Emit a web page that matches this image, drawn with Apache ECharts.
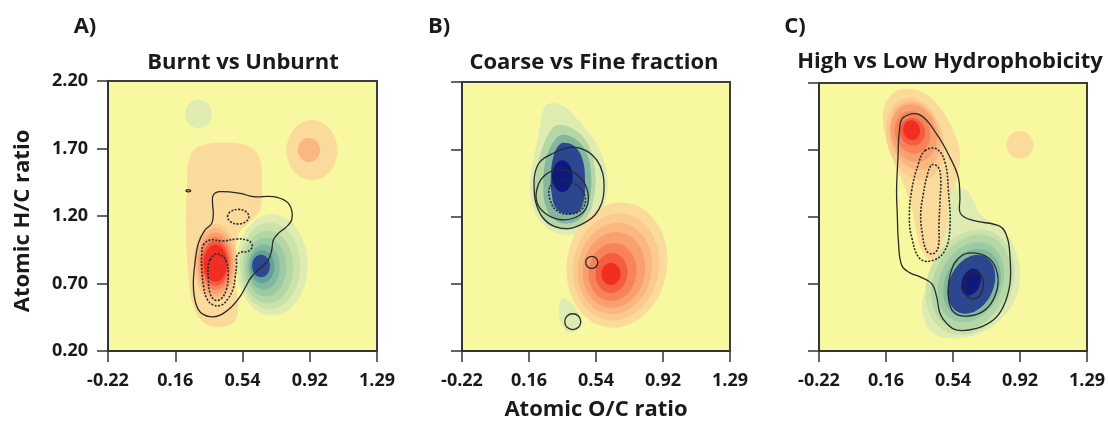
<!DOCTYPE html>
<html><head><meta charset="utf-8">
<script src="https://cdn.jsdelivr.net/npm/echarts@6/dist/echarts.min.js"></script>
<style>html,body{margin:0;padding:0;background:#fff}#chart{width:1108px;height:424px}</style>
</head><body><div id="chart"></div>
<script>
// ---------- axes / labels ----------
const xTickLabels = ['-0.22', '0.16', '0.54', '0.92', '1.29'];
const yTickLabels = ['0.20', '0.70', '1.20', '1.70', '2.20'];
const xRange = [-0.22, 1.29];
const yRange = [0.20, 2.20];
const panelLetters = ['A)', 'B)', 'C)'];
const panelTitles = ['Burnt vs Unburnt', 'Coarse vs Fine fraction', 'High vs Low Hydrophobicity'];
const xAxisTitle = 'Atomic O/C ratio';
const yAxisTitle = 'Atomic H/C ratio';

// ---------- density-difference surfaces (O/C, H/C) ----------
// level >0 : first group denser (orange/red), level <0 : second group denser (green/blue)
// filled regions: vertex lists in data units
const A_fill_plus1 = [[0.240,1.640],[0.300,1.720],[0.437,1.745],[0.570,1.715],[0.630,1.630],[0.644,1.430],[0.633,1.244],[0.577,1.156],[0.510,1.059],[0.498,0.726],[0.510,0.504],[0.482,0.407],[0.397,0.378],[0.313,0.415],[0.257,0.541],[0.229,0.800],[0.218,1.096],[0.223,1.393]];
const B_fill_minus1 = [[0.276,2.042],[0.351,2.022],[0.435,1.917],[0.511,1.793],[0.573,1.645],[0.599,1.471],[0.586,1.298],[0.539,1.174],[0.445,1.080],[0.332,1.070],[0.238,1.137],[0.178,1.273],[0.163,1.447],[0.186,1.645],[0.216,1.843],[0.238,1.992]];
const B_fill_minus3 = [[0.323,1.880],[0.417,1.843],[0.492,1.732],[0.529,1.546],[0.524,1.348],[0.482,1.187],[0.389,1.105],[0.295,1.120],[0.223,1.204],[0.191,1.360],[0.201,1.546],[0.235,1.719],[0.276,1.831]];
const B_fill_minus5 = [[0.342,1.806],[0.426,1.769],[0.482,1.670],[0.507,1.521],[0.501,1.348],[0.464,1.211],[0.389,1.149],[0.304,1.174],[0.253,1.273],[0.238,1.422],[0.248,1.595],[0.285,1.732]];
const B_fill_minus7 = [[0.351,1.749],[0.417,1.719],[0.460,1.620],[0.473,1.471],[0.467,1.323],[0.435,1.236],[0.370,1.219],[0.310,1.261],[0.285,1.372],[0.281,1.521],[0.295,1.645],[0.319,1.719]];
const B_fill_minus1b = [[0.343,0.594],[0.388,0.564],[0.434,0.490],[0.456,0.416],[0.434,0.356],[0.377,0.341],[0.343,0.393],[0.326,0.490]];
const C_fill_plus1 = [[0.255,2.153],[0.368,2.128],[0.462,2.017],[0.537,1.843],[0.574,1.670],[0.556,1.472],[0.527,1.273],[0.509,1.075],[0.490,0.926],[0.424,0.877],[0.368,0.926],[0.330,1.075],[0.302,1.273],[0.255,1.447],[0.199,1.620],[0.152,1.818],[0.143,1.992],[0.180,2.103]];
const C_fill_minus1 = [[0.537,1.410],[0.612,1.397],[0.649,1.323],[0.687,1.224],[0.762,1.149],[0.837,1.075],[0.894,0.926],[0.913,0.753],[0.884,0.580],[0.800,0.431],[0.687,0.332],[0.537,0.294],[0.424,0.332],[0.368,0.456],[0.368,0.604],[0.415,0.728],[0.462,0.827],[0.471,0.976],[0.499,1.125],[0.509,1.273]];

// elliptical density bands: [O/C centre, H/C centre, O/C half-width, H/C half-height, tilt deg, level]
const A_bands = [
  [0.288,1.956,0.076,0.104,0,-1],
  [0.925,1.689,0.143,0.222,0,1],[0.908,1.689,0.062,0.089,0,3],
  [0.383,0.852,0.122,0.290,0,2],[0.383,0.852,0.110,0.258,0,3],[0.383,0.850,0.098,0.228,0,4],
  [0.383,0.850,0.087,0.198,0,5],[0.383,0.850,0.077,0.168,0,6],[0.383,0.850,0.066,0.138,0,7],
  [0.701,0.837,0.200,0.375,0,-1],[0.689,0.830,0.170,0.322,0,-2],[0.678,0.822,0.142,0.270,0,-3],
  [0.667,0.822,0.114,0.218,0,-4],[0.656,0.822,0.088,0.168,0,-5],[0.646,0.825,0.068,0.122,0,-6],
  [0.639,0.830,0.050,0.083,0,-7]
];
const B_bands = [
  [0.345,1.500,0.058,0.118,0,-8],
  [0.653,0.839,0.282,0.468,10,1],[0.648,0.825,0.242,0.401,10,2],[0.642,0.813,0.208,0.342,10,3],
  [0.636,0.802,0.175,0.283,10,4],[0.628,0.787,0.135,0.216,8,5],[0.622,0.780,0.090,0.149,5,6],
  [0.619,0.773,0.054,0.082,0,7]
];
const C_bands = [
  [0.912,1.739,0.075,0.104,0,1],
  [0.321,1.784,0.158,0.312,-15,2],[0.321,1.806,0.140,0.260,-15,3],[0.315,1.825,0.127,0.219,-15,4],
  [0.307,1.832,0.099,0.160,-15,5],[0.307,1.836,0.070,0.104,-15,6],[0.302,1.848,0.047,0.074,-15,7],
  [0.631,0.713,0.237,0.409,25,-2],[0.636,0.713,0.208,0.372,25,-3],[0.636,0.713,0.175,0.312,25,-4],
  [0.642,0.706,0.152,0.268,25,-5],[0.639,0.698,0.124,0.230,25,-7],[0.637,0.715,0.052,0.104,20,-8]
];

// black contour lines (vertex lists in data units)
const A_contour_solid1 = [[0.371,1.355],[0.409,1.380],[0.521,1.368],[0.596,1.343],[0.708,1.343],[0.783,1.306],[0.811,1.244],[0.811,1.170],[0.783,1.121],[0.736,1.071],[0.708,1.022],[0.699,0.948],[0.680,0.874],[0.633,0.812],[0.586,0.750],[0.558,0.689],[0.521,0.602],[0.474,0.528],[0.409,0.466],[0.352,0.454],[0.296,0.491],[0.268,0.577],[0.259,0.701],[0.268,0.849],[0.287,0.997],[0.324,1.096],[0.362,1.145],[0.371,1.219],[0.367,1.293]];
const A_contour_solid2 = [[0.218,1.387],[0.231,1.395],[0.244,1.387],[0.231,1.379]];
const A_contour_dash1 = [[0.315,0.985],[0.353,1.022],[0.427,1.015],[0.502,1.030],[0.558,1.022],[0.586,0.997],[0.586,0.960],[0.558,0.936],[0.521,0.931],[0.502,0.899],[0.502,0.837],[0.493,0.738],[0.483,0.664],[0.455,0.590],[0.418,0.541],[0.371,0.541],[0.334,0.590],[0.315,0.689],[0.306,0.812],[0.306,0.911]];
const A_contour_dash2 = [[0.353,0.874],[0.381,0.916],[0.418,0.906],[0.446,0.861],[0.455,0.763],[0.446,0.664],[0.418,0.590],[0.381,0.577],[0.353,0.627],[0.343,0.738],[0.343,0.837]];
const A_contour_dash3 = [[0.451,1.195],[0.469,1.233],[0.511,1.249],[0.553,1.233],[0.571,1.195],[0.553,1.157],[0.511,1.141],[0.469,1.157]];
const B_contour_solid1 = [[0.186,1.422],[0.191,1.521],[0.220,1.608],[0.295,1.670],[0.389,1.714],[0.473,1.694],[0.539,1.620],[0.573,1.521],[0.580,1.397],[0.567,1.298],[0.529,1.211],[0.464,1.149],[0.389,1.112],[0.304,1.125],[0.238,1.187],[0.197,1.298]];
const B_contour_solid2 = [[0.201,1.397],[0.238,1.496],[0.313,1.546],[0.398,1.533],[0.464,1.459],[0.492,1.348],[0.473,1.248],[0.407,1.187],[0.323,1.179],[0.248,1.224],[0.204,1.298]];
const B_contour_solid3 = [[0.477,0.859],[0.487,0.891],[0.511,0.904],[0.535,0.891],[0.545,0.859],[0.535,0.827],[0.511,0.814],[0.487,0.827]];
const B_contour_solid4 = [[0.359,0.418],[0.372,0.460],[0.404,0.477],[0.436,0.460],[0.449,0.418],[0.436,0.376],[0.404,0.359],[0.372,0.376]];
const B_contour_dash1 = [[0.276,1.422],[0.342,1.471],[0.426,1.434],[0.473,1.348],[0.460,1.261],[0.398,1.219],[0.323,1.236],[0.280,1.310]];
const C_contour_solid1 = [[0.255,1.942],[0.349,1.962],[0.443,1.818],[0.518,1.645],[0.565,1.496],[0.574,1.348],[0.578,1.224],[0.649,1.174],[0.800,1.130],[0.841,1.045],[0.856,0.902],[0.856,0.703],[0.818,0.530],[0.762,0.431],[0.668,0.369],[0.556,0.356],[0.499,0.406],[0.462,0.480],[0.443,0.604],[0.415,0.703],[0.349,0.753],[0.293,0.783],[0.246,0.840],[0.227,1.025],[0.221,1.224],[0.217,1.397],[0.225,1.645],[0.233,1.843]];
const C_contour_solid2 = [[0.621,0.931],[0.734,0.896],[0.785,0.778],[0.777,0.629],[0.715,0.505],[0.612,0.460],[0.537,0.493],[0.509,0.604],[0.518,0.765],[0.556,0.877]];
const C_contour_solid3 = [[0.640,0.790],[0.691,0.773],[0.706,0.691],[0.683,0.609],[0.635,0.592],[0.603,0.641],[0.603,0.728]];
const C_contour_dash1 = [[0.377,1.695],[0.443,1.707],[0.490,1.608],[0.509,1.397],[0.518,1.125],[0.490,0.951],[0.424,0.877],[0.349,0.889],[0.302,1.050],[0.289,1.199],[0.302,1.397],[0.340,1.596]];
const C_contour_dash2 = [[0.415,1.588],[0.452,1.571],[0.466,1.484],[0.462,1.323],[0.456,1.149],[0.452,0.976],[0.424,0.926],[0.387,0.946],[0.362,1.075],[0.353,1.224],[0.368,1.372],[0.387,1.496]];

// ---------- styling ----------
const POS = ['#fbdb9b','#fbcb8e','#fbb780','#faa06f','#f8835b','#f55d41','#f12e21'];
const NEG = ['#dfecb1','#cbe3aa','#b4d7a5','#9ccaa2','#83b89f','#64a09b','#2c4690','#0d1a7c'];
const BG = '#f8f8a0';
const FONT = '"Open Sans", "Liberation Sans", sans-serif';
function colorFor(level) { return level > 0 ? POS[level - 1] : NEG[-level - 1]; }

const panels = [
  { fills: [[A_fill_plus1, 1]], bands: A_bands,
    contours: [[A_contour_solid1,false],[A_contour_solid2,false],[A_contour_dash1,true],[A_contour_dash2,true],[A_contour_dash3,true]] },
  { fills: [[B_fill_minus1,-1],[B_fill_minus3,-3],[B_fill_minus5,-5],[B_fill_minus7,-7],[B_fill_minus1b,-1]], bands: B_bands,
    contours: [[B_contour_solid1,false],[B_contour_solid2,false],[B_contour_solid3,false],[B_contour_solid4,false],[B_contour_dash1,true]] },
  { fills: [[C_fill_plus1,1],[C_fill_minus1,-1]], bands: C_bands,
    contours: [[C_contour_solid1,false],[C_contour_solid2,false],[C_contour_solid3,false],[C_contour_dash1,true],[C_contour_dash2,true]] }
];
const gridBoxes = [
  { left: 108, top: 81, width: 269, height: 270 },
  { left: 462, top: 82, width: 268, height: 269 },
  { left: 819, top: 83, width: 268, height: 268 }
];
const letterPos = [[85, 27], [439, 27], [795, 27]];
const titlePos = [[243, 63], [594, 63], [950, 62]];

const grid = [], xAxis = [], yAxis = [], series = [];
const axisLineStyle = { color: '#333', width: 2 };
panels.forEach((p, i) => {
  grid.push(Object.assign({ show: true, backgroundColor: BG, borderColor: '#3c3c3c', borderWidth: 2, containLabel: false }, gridBoxes[i]));
  const base = xAxis.length;
  xAxis.push({ gridIndex: i, type: 'value', min: xRange[0], max: xRange[1], show: false });
  xAxis.push({ gridIndex: i, type: 'category', data: xTickLabels, boundaryGap: false, position: 'bottom',
    axisLine: { show: true, onZero: false, lineStyle: axisLineStyle },
    axisTick: { show: true, length: 11, lineStyle: { color: '#333', width: 1.5 } },
    axisLabel: { show: true, margin: 21, color: '#1a1a1a', fontFamily: FONT, fontWeight: 'bold', fontSize: 18, interval: 0 },
    splitLine: { show: false } });
  yAxis.push({ gridIndex: i, type: 'value', min: yRange[0], max: yRange[1], show: false });
  yAxis.push({ gridIndex: i, type: 'category', data: yTickLabels, boundaryGap: false, position: 'left',
    axisLine: { show: true, onZero: false, lineStyle: axisLineStyle },
    axisTick: { show: true, length: 11, lineStyle: { color: '#333', width: 1.5 } },
    axisLabel: { show: i === 0, margin: 20, color: '#1a1a1a', fontFamily: FONT, fontWeight: 'bold', fontSize: 18, interval: 0 },
    splitLine: { show: false } });
  const xi = base, yi = base;
  // filled irregular regions
  series.push({ type: 'custom', coordinateSystem: 'cartesian2d', xAxisIndex: xi, yAxisIndex: yi, clip: true, silent: true, z: 1,
    data: p.fills.map(f => f[0][0]),
    renderItem: (params, api) => {
      const f = p.fills[params.dataIndex];
      return { type: 'polygon', shape: { points: f[0].map(pt => api.coord(pt)), smooth: 0.4 }, style: { fill: colorFor(f[1]) } };
    } });
  // elliptical bands
  series.push({ type: 'custom', coordinateSystem: 'cartesian2d', xAxisIndex: xi, yAxisIndex: yi, clip: true, silent: true, z: 1,
    data: p.bands,
    renderItem: (params, api) => {
      const c = api.coord([api.value(0), api.value(1)]);
      const s = api.size([api.value(2), api.value(3)]);
      const rot = api.value(4) * Math.PI / 180;
      const pts = [];
      for (let k = 0; k < 72; k++) {
        const t = k / 72 * 2 * Math.PI;
        const ex = s[0] * Math.cos(t), ey = s[1] * Math.sin(t);
        pts.push([c[0] + ex * Math.cos(rot) - ey * Math.sin(rot), c[1] + ex * Math.sin(rot) + ey * Math.cos(rot)]);
      }
      return { type: 'polygon', shape: { points: pts }, style: { fill: colorFor(api.value(5)) } };
    } });
  // contour lines
  series.push({ type: 'custom', coordinateSystem: 'cartesian2d', xAxisIndex: xi, yAxisIndex: yi, clip: true, silent: true, z: 1,
    data: p.contours.map(c => c[0][0]),
    renderItem: (params, api) => {
      const c = p.contours[params.dataIndex];
      return { type: 'polygon', shape: { points: c[0].map(pt => api.coord(pt)), smooth: 0.4 },
        style: { fill: 'none', stroke: '#2a2a2a', lineWidth: c[1] ? 1.6 : 1.3, lineDash: c[1] ? [2, 1.5] : null } };
    } });
  // plot frame: top and right edges along the axis extents
  series.push({ type: 'custom', coordinateSystem: 'cartesian2d', xAxisIndex: xi, yAxisIndex: yi, clip: false, silent: true, z: 5,
    data: [[xRange[1], yRange[1]]],
    renderItem: (params, api) => {
      const pts = [[xRange[0], yRange[1]], [xRange[1], yRange[1]], [xRange[1], yRange[0]]].map(pt => api.coord(pt));
      return { type: 'polyline', shape: { points: pts }, style: { fill: null, stroke: '#3c3c3c', lineWidth: 2 } };
    } });
});

const textEl = (txt, x, y, size, rot) => ({ type: 'text', x, y, rotation: rot || 0, silent: true,
  style: { text: txt, fill: '#1a1a1a', font: 'bold ' + size + 'px ' + FONT, fontSize: size, fontWeight: 'bold', fontFamily: FONT,
    textAlign: 'center', textVerticalAlign: 'middle', align: 'center', verticalAlign: 'middle' } });
const graphic = [];
panelLetters.forEach((l, i) => graphic.push(textEl(l, letterPos[i][0], letterPos[i][1], 22)));
panelTitles.forEach((t, i) => graphic.push(textEl(t, titlePos[i][0], titlePos[i][1], 22)));
graphic.push(textEl(xAxisTitle, 596, 410, 22));
graphic.push(textEl(yAxisTitle, 23, 221, 22, Math.PI / 2));

const chart = echarts.init(document.getElementById('chart'), null, { renderer: 'canvas' });
chart.setOption({ animation: false, backgroundColor: '#ffffff', grid, xAxis, yAxis, series, graphic });
</script></body></html>
